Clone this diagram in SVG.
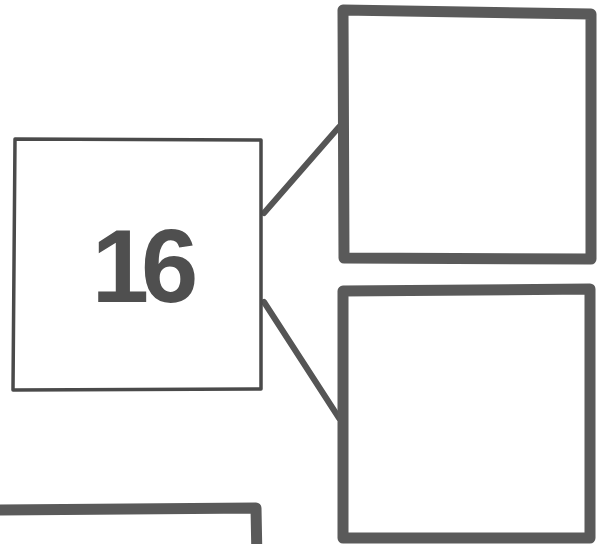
<svg xmlns="http://www.w3.org/2000/svg" width="597" height="544" viewBox="0 0 597 544">
<style>
.thin{fill:#fff;stroke:#4a4a4a;stroke-width:3.5;stroke-linejoin:round}
.thick{fill:#fff;stroke:#5a5a5a;stroke-width:11;stroke-linejoin:round}
.conn{stroke:#555;stroke-width:6;stroke-linecap:round;fill:none}
.lbl{font-family:"Liberation Sans",Arial,sans-serif;font-weight:bold;fill:#4f4f4f}
</style>
<rect width="597" height="544" fill="#fff"/>
<g id="connectors">
<line class="conn" x1="264" y1="213" x2="339" y2="127"/>
<line class="conn" x1="264" y1="302" x2="339" y2="418"/>
</g>
<g id="node16">
<path class="thin" d="M15 139 L261 140 L261 389 L13 390 Z"/>
<text class="lbl" x="141" y="302" font-size="103" text-anchor="middle" letter-spacing="-8">16</text>
</g>
<g id="nodeTopRight">
<path class="thick" d="M343 10 L591 14 L591 259 L344 258 Z"/>
</g>
<g id="nodeBottomRight">
<path class="thick" d="M343 291 L590 289 L590 538 L343 538 Z"/>
</g>
<g id="nodeBottomLeft">
<path class="thick" d="M-10 510 L256 508 L257 560 L-10 560"/>
</g>
</svg>
